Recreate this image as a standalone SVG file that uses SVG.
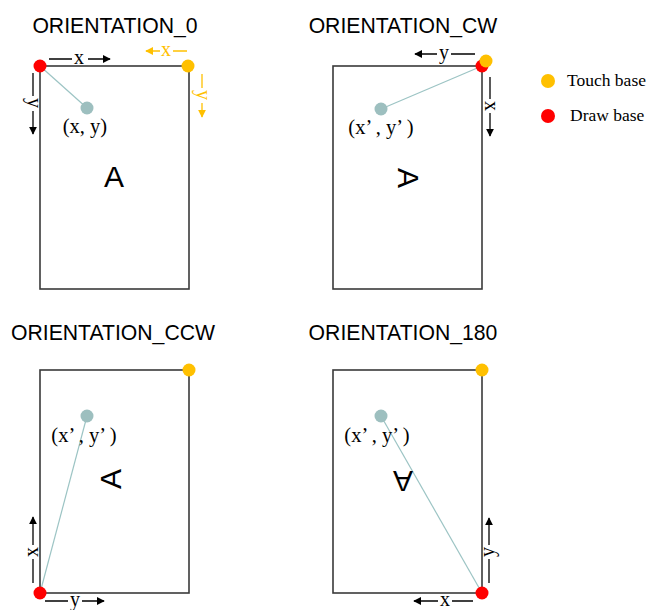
<svg xmlns="http://www.w3.org/2000/svg" width="652" height="610" viewBox="0 0 652 610">
<style>
.title{font-family:"Liberation Sans",Arial,sans-serif;font-size:21.2px;fill:#000;text-anchor:middle}
.frame{fill:none;stroke:#3a3a3a;stroke-width:1.6}
.lbl{font-family:"Liberation Serif","Times New Roman",serif;font-size:20.5px;fill:#000;text-anchor:middle}
.ax{font-family:"Liberation Serif","Times New Roman",serif;font-size:20px;fill:#000;text-anchor:middle}
.axo{font-family:"Liberation Serif","Times New Roman",serif;font-size:20px;fill:#ffc000;text-anchor:middle}
.big{font-family:"Liberation Sans",Arial,sans-serif;font-size:30px;fill:#000;text-anchor:middle}
.leg{font-family:"Liberation Serif","Times New Roman",serif;font-size:17.5px;fill:#000}
.arr{stroke:#000;stroke-width:1.3;fill:none;marker-end:url(#ah)}
.arro{stroke:#ffc000;stroke-width:1.3;fill:none;marker-end:url(#aho)}
.conn{stroke:#9cc4c4;stroke-width:1.2;fill:none}
.touch{fill:#ffc000}
.draw{fill:#ff0000}
.pt{fill:#9dbfbf}
</style>
<defs>
<marker id="ah" viewBox="0 0 10 10" refX="9" refY="5" markerWidth="8" markerHeight="8" markerUnits="userSpaceOnUse" orient="auto"><path d="M0,0 L10,5 L0,10 z" fill="#000"/></marker>
<marker id="aho" viewBox="0 0 10 10" refX="9" refY="5" markerWidth="8" markerHeight="8" markerUnits="userSpaceOnUse" orient="auto"><path d="M0,0 L10,5 L0,10 z" fill="#ffc000"/></marker>
</defs>

<g id="connectors">
<line class="conn" x1="40" y1="66" x2="87" y2="108"/>
<line class="conn" x1="482" y1="66" x2="381" y2="109"/>
<line class="conn" x1="40" y1="593" x2="87" y2="416"/>
<line class="conn" x1="482" y1="593" x2="381" y2="416"/>
</g>

<g id="panel-0">
<text class="title" x="115" y="33">ORIENTATION_0</text>
<rect class="frame" x="40" y="66" width="149" height="223"/>
<text class="big" x="114" y="187">A</text>
<line class="arr" x1="49" y1="59" x2="110" y2="59"/>
<rect x="72" y="52" width="16" height="12" fill="#fff"/>
<text class="ax" x="79" y="64">x</text>
<line class="arr" x1="33" y1="73" x2="33" y2="134"/>
<rect x="27" y="96" width="12" height="15" fill="#fff"/>
<text class="ax" transform="translate(33,103) rotate(90)" x="0" y="5">y</text>
<line class="arro" x1="187" y1="51" x2="146" y2="51"/>
<rect x="160" y="44" width="13" height="12" fill="#fff"/>
<text class="axo" x="166" y="56">x</text>
<line class="arro" x1="202" y1="74" x2="202" y2="117"/>
<rect x="196" y="88" width="12" height="15" fill="#fff"/>
<text class="axo" transform="translate(202,95) rotate(90)" x="0" y="5">y</text>
<circle class="pt" cx="87" cy="108" r="6.5"/>
<text class="lbl" x="85" y="133">(x, y)</text>
<circle class="draw" cx="40" cy="66" r="6.5"/>
<circle class="touch" cx="188" cy="66" r="6.5"/>
</g>

<g id="panel-cw">
<text class="title" x="403" y="33">ORIENTATION_CW</text>
<rect class="frame" x="333" y="66" width="149" height="223"/>
<text class="big" transform="translate(409,178) rotate(90)" x="0" y="11">A</text>
<line class="arr" x1="475" y1="54" x2="415" y2="54"/>
<rect x="437" y="47" width="14" height="14" fill="#fff"/>
<text class="ax" x="444" y="59">y</text>
<line class="arr" x1="490" y1="77" x2="490" y2="136"/>
<rect x="484" y="99" width="12" height="14" fill="#fff"/>
<text class="ax" transform="translate(490,106) rotate(90)" x="0" y="5">x</text>
<circle class="pt" cx="381" cy="109" r="6.5"/>
<text class="lbl" x="381" y="134">(x’ , y’ )</text>
<circle class="draw" cx="482" cy="66" r="6.5"/>
<circle class="touch" cx="486" cy="61" r="6.5"/>
</g>

<g id="panel-ccw">
<text class="title" x="113" y="340">ORIENTATION_CCW</text>
<rect class="frame" x="40" y="370" width="149" height="223"/>
<text class="big" transform="translate(110,479) rotate(-90)" x="0" y="11">A</text>
<line class="arr" x1="33" y1="583" x2="33" y2="517"/>
<rect x="27" y="545" width="12" height="14" fill="#fff"/>
<text class="ax" transform="translate(33,552) rotate(-90)" x="0" y="5">x</text>
<line class="arr" x1="45" y1="601" x2="104" y2="601"/>
<rect x="68" y="594" width="14" height="14" fill="#fff"/>
<text class="ax" x="75" y="606">y</text>
<circle class="pt" cx="87" cy="416" r="6.5"/>
<text class="lbl" x="84" y="442">(x’ , y’ )</text>
<circle class="touch" cx="189" cy="370" r="6.5"/>
<circle class="draw" cx="40" cy="593" r="6.5"/>
</g>

<g id="panel-180">
<text class="title" x="403" y="340">ORIENTATION_180</text>
<rect class="frame" x="333" y="370" width="149" height="223"/>
<text class="big" transform="translate(403,482) rotate(180)" x="0" y="11">A</text>
<line class="arr" x1="489" y1="583" x2="489" y2="518"/>
<rect x="483" y="545" width="12" height="14" fill="#fff"/>
<text class="ax" transform="translate(489,552) rotate(-90)" x="0" y="5">y</text>
<line class="arr" x1="473" y1="601" x2="414" y2="601"/>
<rect x="438" y="594" width="14" height="14" fill="#fff"/>
<text class="ax" x="445" y="606">x</text>
<circle class="pt" cx="381" cy="416" r="6.5"/>
<text class="lbl" x="377" y="442">(x’ , y’ )</text>
<circle class="touch" cx="482" cy="370" r="6.5"/>
<circle class="draw" cx="482" cy="593" r="6.5"/>
</g>

<g id="legend">
<circle class="touch" cx="548" cy="81" r="7"/>
<text class="leg" x="567" y="86">Touch base</text>
<circle class="draw" cx="548" cy="116" r="7"/>
<text class="leg" x="570" y="121">Draw base</text>
</g>
</svg>
